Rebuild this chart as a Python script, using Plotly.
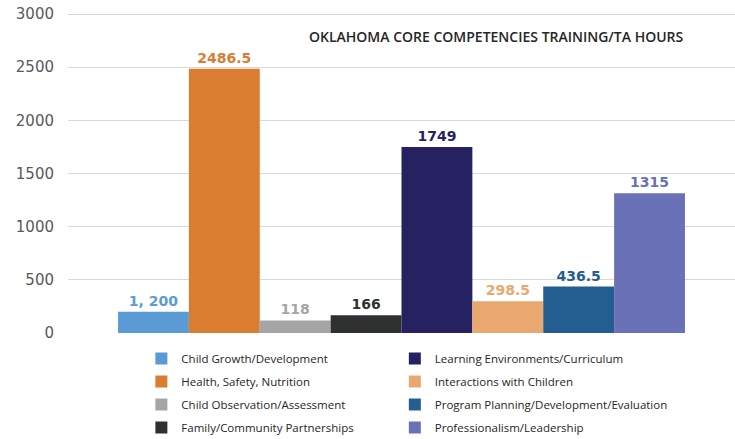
import plotly.graph_objects as go

categories = ["Child Growth/Development", "Health, Safety, Nutrition", "Child Observation/Assessment",
              "Family/Community Partnerships", "Learning Environments/Curriculum", "Interactions with Children",
              "Program Planning/Development/Evaluation", "Professionalism/Leadership"]
values = [200, 2486.5, 118, 166, 1749, 298.5, 436.5, 1315]
labels = ["1, 200", "2486.5", "118", "166", "1749", "298.5", "436.5", "1315"]
colors = ["#5B9BD5", "#DB7D31", "#A5A5A5", "#2F3131", "#262262", "#E9A870", "#245E91", "#6A71B6"]
tick_vals = [0, 500, 1000, 1500, 2000, 2500, 3000]

fig = go.Figure()
for i, (name, v, lab, c) in enumerate(zip(categories, values, labels, colors)):
    fig.add_trace(go.Bar(
        x=["Hours"], y=[v], name=name, text=[lab], textposition="outside",
        marker=dict(color=c, line=dict(width=0)),
        outsidetextfont=dict(family="DejaVu Sans", size=14, color=c, weight="bold"),
        cliponaxis=False,
        legend="legend" if i < 4 else "legend2",
        legendgroup=name,
    ))

fig.update_layout(
    width=735, height=439,
    margin=dict(l=68, r=0, t=13, b=106, autoexpand=False),
    paper_bgcolor="white", plot_bgcolor="white",
    barmode="group", bargap=0.15, bargroupgap=0,
    font=dict(family="Open Sans", color="#404040"),
    xaxis=dict(showticklabels=False, showgrid=False, zeroline=False, showline=False, automargin=False),
    yaxis=dict(range=[0, 3010], tickvals=tick_vals, showgrid=True, gridcolor="#D9D9D9",
               gridwidth=1, zeroline=False, automargin=False, ticklabeloverflow="allow",
               tickfont=dict(size=15, color="#595959", family="DejaVu Sans"),
               ticklabelstandoff=13),
    legend=dict(x=0.11, y=-0.034, xanchor="left", yanchor="top", orientation="v",
                font=dict(size=11.5, color="#262626"), tracegroupgap=4),
    legend2=dict(x=0.49, y=-0.034, xanchor="left", yanchor="top", orientation="v",
                 font=dict(size=11.5, color="#262626"), tracegroupgap=4),
    showlegend=True,
    annotations=[dict(text="OKLAHOMA CORE COMPETENCIES TRAINING/TA HOURS", x=0.642, y=0.925,
                      xref="paper", yref="paper", showarrow=False, xanchor="center", yanchor="middle",
                      font=dict(size=14, color="#262626", family="Open Sans", weight=600))],
)

fig.write_html("out.html", config={"displayModeBar": False},
               post_script="document.body.style.margin='0';")
